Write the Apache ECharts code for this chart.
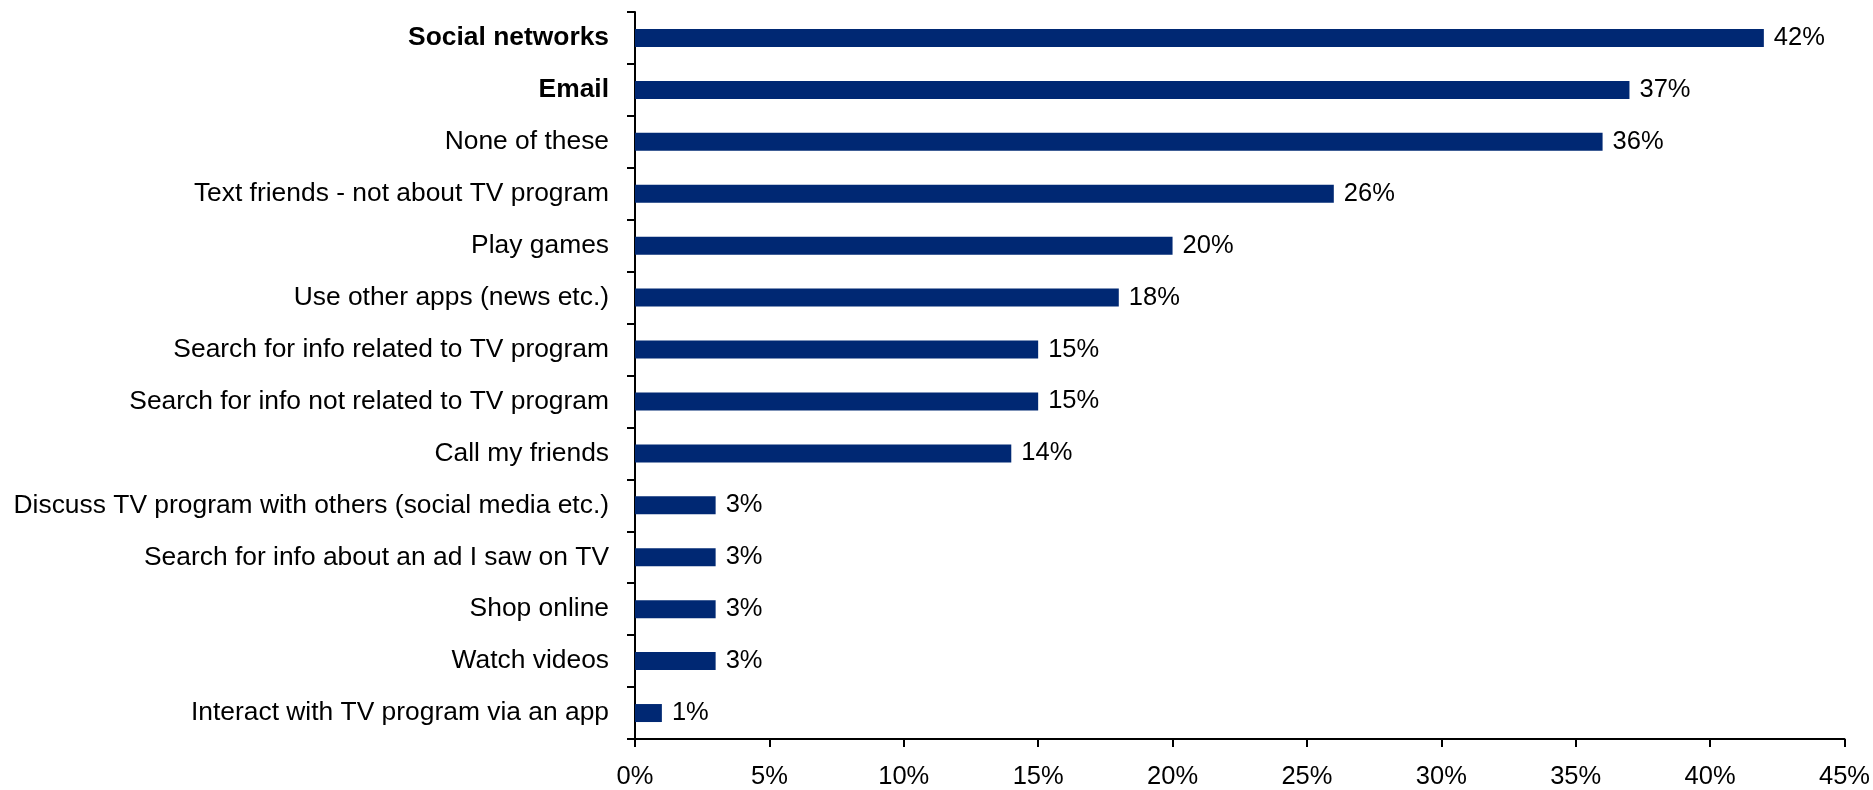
<!DOCTYPE html>
<html>
<head>
<meta charset="utf-8">
<script src="https://cdn.jsdelivr.net/npm/echarts@6/dist/echarts.min.js"></script>
<style>
  html, body { margin: 0; padding: 0; background: #fff; }
  #chart { width: 1873px; height: 790px; }
</style>
</head>
<body>
<div id="chart"></div>
<script>
// Activities while watching TV (share of respondents)
const categories = [
  'Social networks',
  'Email',
  'None of these',
  'Text friends - not about TV program',
  'Play games',
  'Use other apps (news etc.)',
  'Search for info related to TV program',
  'Search for info not related to TV program',
  'Call my friends',
  'Discuss TV program with others (social media etc.)',
  'Search for info about an ad I saw on TV',
  'Shop online',
  'Watch videos',
  'Interact with TV program via an app'
];
const values = [42, 37, 36, 26, 20, 18, 15, 15, 14, 3, 3, 3, 3, 1];
const boldCategories = ['Social networks', 'Email'];

const chart = echarts.init(document.getElementById('chart'));
const font = 'Liberation Sans, Arial, sans-serif';

chart.setOption({
  animation: false,
  grid: { left: 635, right: 26, top: 12, bottom: 50, containLabel: false },
  xAxis: {
    type: 'value',
    min: 0,
    max: 45,
    interval: 5,
    splitLine: { show: false },
    axisLine: { show: true, lineStyle: { color: '#000', width: 2 } },
    axisTick: { show: true, length: 8, inside: false, lineStyle: { color: '#000', width: 2 } },
    axisLabel: {
      formatter: '{value}%',
      color: '#000',
      fontFamily: font,
      fontSize: 25.5,
      margin: 25
    }
  },
  yAxis: {
    type: 'category',
    inverse: true,
    data: categories,
    boundaryGap: true,
    axisLine: { show: true, lineStyle: { color: '#000', width: 2 } },
    axisTick: { show: true, length: 8, alignWithLabel: false, lineStyle: { color: '#000', width: 2 } },
    axisLabel: {
      color: '#000',
      fontFamily: font,
      fontSize: 26.4,
      margin: 26,
      formatter: function (v) {
        return boldCategories.indexOf(v) >= 0 ? '{b|' + v + '}' : v;
      },
      rich: {
        b: { fontWeight: 'bold', fontFamily: font, fontSize: 26.4, color: '#000' }
      }
    }
  },
  series: [{
    type: 'bar',
    data: values,
    barWidth: 18,
    itemStyle: { color: '#002873' },
    label: {
      show: true,
      position: 'right',
      distance: 10,
      formatter: '{c}%',
      color: '#000',
      fontFamily: font,
      fontSize: 25.5
    }
  }]
});
</script>
</body>
</html>
